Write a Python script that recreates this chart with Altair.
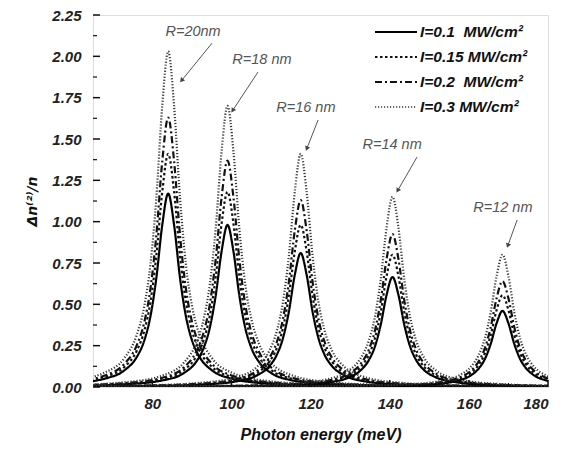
import math
import altair as alt
import pandas as pd

# ---------------- data ----------------
intensity_labels = ["I=0.1\u00a0\u00a0MW/cm²", "I=0.15 MW/cm²", "I=0.2\u00a0\u00a0MW/cm²", "I=0.3 MW/cm²"]
radius_labels = ["R=20nm", "R=18 nm", "R=16 nm", "R=14 nm", "R=12 nm"]

x_r20 = [14, 44, 59, 68, 73, 76, 78, 79.5, 81, 82.5, 84, 85.5, 87, 88.5, 90, 92, 95, 100, 109, 124, 154]
x_r18 = [29, 59, 74, 83, 88, 91, 93, 94.5, 96, 97.5, 99, 100.5, 102, 103.5, 105, 107, 110, 115, 124, 139, 169]
x_r16 = [47.5, 77.5, 92.5, 101.5, 106.5, 109.5, 111.5, 113, 114.5, 116, 117.5, 119, 120.5, 122, 123.5, 125.5, 128.5, 133.5, 142.5, 157.5, 187.5]
x_r14 = [70.7, 100.7, 115.7, 124.7, 129.7, 132.7, 134.7, 136.2, 137.7, 139.2, 140.7, 142.2, 143.7, 145.2, 146.7, 148.7, 151.7, 156.7, 165.7, 180.7, 210.7]
x_r12 = [98.5, 128.5, 143.5, 152.5, 157.5, 160.5, 162.5, 164, 165.5, 167, 168.5, 170, 171.5, 173, 174.5, 176.5, 179.5, 184.5, 193.5, 208.5, 238.5]

r20_i01 = [0.003, 0.008, 0.021, 0.051, 0.102, 0.179, 0.284, 0.425, 0.658, 0.979, 1.17, 0.979, 0.658, 0.425, 0.284, 0.179, 0.102, 0.051, 0.021, 0.008, 0.003]
r20_i015 = [0.003, 0.010, 0.026, 0.061, 0.123, 0.216, 0.343, 0.512, 0.792, 1.180, 1.41, 1.180, 0.792, 0.512, 0.343, 0.216, 0.123, 0.061, 0.026, 0.010, 0.003]
r20_i02 = [0.004, 0.012, 0.030, 0.070, 0.142, 0.249, 0.396, 0.592, 0.916, 1.364, 1.63, 1.364, 0.916, 0.592, 0.396, 0.249, 0.142, 0.070, 0.030, 0.012, 0.004]
r20_i03 = [0.005, 0.015, 0.037, 0.088, 0.177, 0.311, 0.493, 0.737, 1.141, 1.699, 2.03, 1.699, 1.141, 0.737, 0.493, 0.311, 0.177, 0.088, 0.037, 0.015, 0.005]

r18_i01 = [0.002, 0.007, 0.018, 0.042, 0.085, 0.150, 0.238, 0.356, 0.551, 0.820, 0.98, 0.820, 0.551, 0.356, 0.238, 0.150, 0.085, 0.042, 0.018, 0.007, 0.002]
r18_i015 = [0.003, 0.008, 0.021, 0.051, 0.103, 0.181, 0.287, 0.428, 0.663, 0.988, 1.18, 0.988, 0.663, 0.428, 0.287, 0.181, 0.103, 0.051, 0.021, 0.008, 0.003]
r18_i02 = [0.003, 0.010, 0.025, 0.059, 0.119, 0.210, 0.333, 0.497, 0.770, 1.147, 1.37, 1.147, 0.770, 0.497, 0.333, 0.210, 0.119, 0.059, 0.025, 0.010, 0.003]
r18_i03 = [0.004, 0.012, 0.031, 0.073, 0.148, 0.260, 0.413, 0.617, 0.955, 1.423, 1.70, 1.423, 0.955, 0.617, 0.413, 0.260, 0.148, 0.073, 0.031, 0.012, 0.004]

r16_i01 = [0.002, 0.006, 0.015, 0.035, 0.071, 0.124, 0.197, 0.294, 0.455, 0.678, 0.81, 0.678, 0.455, 0.294, 0.197, 0.124, 0.071, 0.035, 0.015, 0.006, 0.002]
r16_i015 = [0.002, 0.007, 0.018, 0.042, 0.085, 0.150, 0.238, 0.356, 0.551, 0.820, 0.98, 0.820, 0.551, 0.356, 0.238, 0.150, 0.085, 0.042, 0.018, 0.007, 0.002]
r16_i02 = [0.003, 0.008, 0.021, 0.049, 0.099, 0.173, 0.275, 0.410, 0.635, 0.946, 1.13, 0.946, 0.635, 0.410, 0.275, 0.173, 0.099, 0.049, 0.021, 0.008, 0.003]
r16_i03 = [0.003, 0.010, 0.026, 0.061, 0.123, 0.216, 0.343, 0.512, 0.792, 1.180, 1.41, 1.180, 0.792, 0.512, 0.343, 0.216, 0.123, 0.061, 0.026, 0.010, 0.003]

r14_i01 = [0.002, 0.005, 0.012, 0.029, 0.058, 0.102, 0.162, 0.241, 0.374, 0.557, 0.665, 0.557, 0.374, 0.241, 0.162, 0.102, 0.058, 0.029, 0.012, 0.005, 0.002]
r14_i015 = [0.002, 0.006, 0.015, 0.035, 0.070, 0.122, 0.194, 0.290, 0.450, 0.670, 0.80, 0.670, 0.450, 0.290, 0.194, 0.122, 0.070, 0.035, 0.015, 0.006, 0.002]
r14_i02 = [0.002, 0.007, 0.017, 0.040, 0.081, 0.142, 0.225, 0.336, 0.520, 0.774, 0.925, 0.774, 0.520, 0.336, 0.225, 0.142, 0.081, 0.040, 0.017, 0.007, 0.002]
r14_i03 = [0.003, 0.008, 0.021, 0.050, 0.100, 0.176, 0.279, 0.417, 0.646, 0.963, 1.15, 0.963, 0.646, 0.417, 0.279, 0.176, 0.100, 0.050, 0.021, 0.008, 0.003]

r12_i01 = [0.001, 0.003, 0.008, 0.020, 0.040, 0.070, 0.112, 0.167, 0.259, 0.385, 0.46, 0.385, 0.259, 0.167, 0.112, 0.070, 0.040, 0.020, 0.008, 0.003, 0.001]
r12_i015 = [0.001, 0.004, 0.010, 0.024, 0.048, 0.085, 0.135, 0.201, 0.312, 0.465, 0.555, 0.465, 0.312, 0.201, 0.135, 0.085, 0.048, 0.024, 0.010, 0.004, 0.001]
r12_i02 = [0.002, 0.005, 0.012, 0.028, 0.056, 0.098, 0.156, 0.232, 0.360, 0.536, 0.64, 0.536, 0.360, 0.232, 0.156, 0.098, 0.056, 0.028, 0.012, 0.005, 0.002]
r12_i03 = [0.002, 0.006, 0.015, 0.035, 0.070, 0.122, 0.194, 0.290, 0.450, 0.670, 0.80, 0.670, 0.450, 0.290, 0.194, 0.122, 0.070, 0.035, 0.015, 0.006, 0.002]

# annotation labels and arrows (data coordinates)
label_x = [90.3, 107.7, 118.8, 140.6, 168.6]
label_y = [2.15, 1.98, 1.69, 1.464, 1.083]
arrow_x1 = [95.1, 106.7, 121.9, 146.9, 172.2]
arrow_y1 = [2.08, 1.905, 1.615, 1.391, 1.01]
arrow_x2 = [87.5, 100.4, 119.1, 142.1, 169.9]
arrow_y2 = [1.857, 1.676, 1.446, 1.192, 0.859]

x_tick_labels = [80, 100, 120, 140, 160, 180]
x_minor = [70, 90, 110, 130, 150, 170]
y_tick_labels = [0.0, 0.25, 0.5, 0.75, 1.0, 1.25, 1.5, 1.75, 2.0, 2.25]
y_minor = [0.125, 0.375, 0.625, 0.875, 1.125, 1.375, 1.625, 1.875, 2.125]

# ---------------- assemble ----------------
xs = [x_r20, x_r18, x_r16, x_r14, x_r12]
ys = [
    [r20_i01, r20_i015, r20_i02, r20_i03],
    [r18_i01, r18_i015, r18_i02, r18_i03],
    [r16_i01, r16_i015, r16_i02, r16_i03],
    [r14_i01, r14_i015, r14_i02, r14_i03],
    [r12_i01, r12_i015, r12_i02, r12_i03],
]
rows = []
for ri, rlab in enumerate(radius_labels):
    for ii, ilab in enumerate(intensity_labels):
        for k, (xv, yv) in enumerate(zip(xs[ri], ys[ri][ii])):
            rows.append({"E": xv, "dn": yv, "R": rlab, "I": ilab, "curve": f"{ri}-{ii}", "k": k})
df = pd.DataFrame(rows)

W, H = 455, 372
XMIN, XMAX, YMIN, YMAX = 65, 180, 0, 2.25
px_x = W / (XMAX - XMIN)
px_y = H / (YMAX - YMIN)

ann = pd.DataFrame({"label": radius_labels, "lx": label_x, "ly": label_y,
                    "x1": arrow_x1, "y1": arrow_y1, "x2": arrow_x2, "y2": arrow_y2})
ann["angle"] = [
    (math.degrees(math.atan2((b - a) * px_x, (d - c) * px_y)) + 360) % 360
    for a, b, c, d in zip(ann.x1, ann.x2, ann.y1, ann.y2)
]

xscale = alt.Scale(domain=[XMIN, XMAX], nice=False, zero=False)
yscale = alt.Scale(domain=[YMIN, YMAX], nice=False, zero=False)

FONT = "Liberation Sans"

dash_range = [[1, 0], [2.5, 2.5], [7, 3, 2, 3], [1.2, 1.8]]
width_range = [2.2, 2.2, 2.0, 1.6]
color_range = ["#000000", "#111111", "#111111", "#3a3a3a"]

lines = alt.Chart(df).mark_line(clip=True, interpolate="monotone").encode(
    x=alt.X("E:Q", scale=xscale,
            axis=alt.Axis(values=x_tick_labels, title="Photon energy (meV)", grid=False, ticks=False,
                          domain=False, labelFont=FONT, labelFontSize=15, labelFontWeight="bold",
                          labelFontStyle="italic", labelColor="#222", labelPadding=9,
                          titleFont=FONT, titleFontSize=16, titleFontWeight="bold",
                          titleFontStyle="italic", titleColor="#111", titlePadding=15)),
    y=alt.Y("dn:Q", scale=yscale,
            axis=alt.Axis(values=y_tick_labels, format=".2f", title="Δn⁽²⁾/n", grid=False, ticks=False,
                          domain=False, labelFont=FONT, labelFontSize=15, labelFontWeight="bold",
                          labelFontStyle="italic", labelColor="#222", labelPadding=12,
                          titleFont="DejaVu Sans", titleFontSize=14, titleFontWeight="bold",
                          titleFontStyle="italic", titleColor="#111", titlePadding=12)),
    detail="curve:N",
    order="k:Q",
    strokeDash=alt.StrokeDash("I:N", scale=alt.Scale(domain=intensity_labels, range=dash_range), legend=None),
    strokeWidth=alt.StrokeWidth("I:N", scale=alt.Scale(domain=intensity_labels, range=width_range), legend=None),
    color=alt.Color("I:N", scale=alt.Scale(domain=intensity_labels, range=color_range), legend=None),
)

# inward ticks
ytick_df = pd.DataFrame({"v": y_tick_labels})
yminor_df = pd.DataFrame({"v": y_minor})
xtick_df = pd.DataFrame({"v": x_tick_labels})
xminor_df = pd.DataFrame({"v": x_minor})

ytick = alt.Chart(ytick_df).mark_rule(color="#111", strokeWidth=1.5).encode(
    y=alt.Y("v:Q", scale=yscale), x=alt.value(0), x2=alt.value(7))
ytick_m = alt.Chart(yminor_df).mark_rule(color="#111", strokeWidth=1.2).encode(
    y=alt.Y("v:Q", scale=yscale), x=alt.value(0), x2=alt.value(4))
xtick = alt.Chart(xtick_df).mark_rule(color="#111", strokeWidth=1.5).encode(
    x=alt.X("v:Q", scale=xscale), y=alt.value(H), y2=alt.value(H - 7))
xtick_m = alt.Chart(xminor_df).mark_rule(color="#111", strokeWidth=1.2).encode(
    x=alt.X("v:Q", scale=xscale), y=alt.value(H), y2=alt.value(H - 4))

# annotations
ann_text = alt.Chart(ann).mark_text(font=FONT, fontSize=14.5, fontStyle="italic", color="#555").encode(
    x=alt.X("lx:Q", scale=xscale), y=alt.Y("ly:Q", scale=yscale), text="label:N")
ann_line = alt.Chart(ann).mark_rule(color="#555", strokeWidth=1).encode(
    x=alt.X("x1:Q", scale=xscale), y=alt.Y("y1:Q", scale=yscale),
    x2="x2:Q", y2="y2:Q")
ann_head = alt.Chart(ann).mark_point(shape="triangle", filled=True, color="#444", size=28, opacity=1).encode(
    x=alt.X("x2:Q", scale=xscale), y=alt.Y("y2:Q", scale=yscale), angle=alt.Angle("angle:Q", scale=None))

# manual legend
leg_layers = []
leg_rows = [17, 42, 67, 92]
for i, lab in enumerate(intensity_labels):
    leg_layers.append(
        alt.Chart(df.head(1)).mark_rule(color=color_range[i], strokeWidth=width_range[i],
                                        strokeDash=dash_range[i]).encode(
            x=alt.value(282), x2=alt.value(324), y=alt.value(leg_rows[i]))
    )
    leg_layers.append(
        alt.Chart(df.head(1)).mark_text(text=lab, align="left", baseline="middle", font=FONT, fontSize=15.5,
                                        fontWeight="bold", fontStyle="italic", color="#111").encode(
            x=alt.value(327), y=alt.value(leg_rows[i]))
    )

chart = alt.layer(lines, ytick, ytick_m, xtick, xtick_m, ann_line, ann_head, ann_text, *leg_layers).properties(
    width=W, height=H,
    autosize=alt.AutoSizeParams(type="none"),
    padding={"left": 93, "top": 15, "right": 18, "bottom": 65},
).configure_view(stroke="#111", strokeWidth=2).configure(background="white")

chart.save("out.html", embed_options={"renderer": "svg", "actions": False})
